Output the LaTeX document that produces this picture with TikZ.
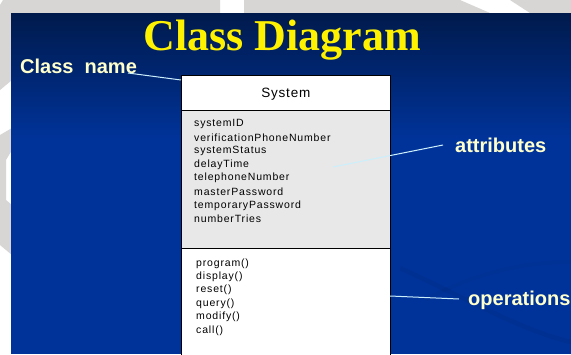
\documentclass[tikz,border=0pt]{standalone}
\usepackage{fontspec}
\setmainfont{Liberation Serif}
\setsansfont{Liberation Sans}
\begin{document}
\begin{tikzpicture}[x=1pt,y=-1pt,
  lbl/.style={font=\sffamily\bfseries\fontsize{20}{20}\selectfont, text=lblyellow, inner sep=0pt},
  member/.style={font=\sffamily\fontsize{10.5}{10.5}\selectfont\addfontfeatures{LetterSpace=8}, anchor=west, inner sep=0pt, text=black},
  pointer/.style={draw=white!80!cyan, line width=1pt}]
\definecolor{lblyellow}{HTML}{FFFFCC}
\definecolor{slideblue}{HTML}{00339A}
\definecolor{slidenavy}{HTML}{001A4C}
\definecolor{memfill}{HTML}{E8E8E8}
\definecolor{wmgray}{HTML}{D8D6D4}
\useasboundingbox (0,0) rectangle (571,354);
% watermark background
\fill[white] (0,0) rectangle (571,354);
\fill[wmgray] (3,0) -- (220,0) -- (220,13) -- (0,13) -- (0,5) -- cycle;
\fill[wmgray] (244,0) -- (460,0) -- (490,13) -- (244,13) -- cycle;
\fill[wmgray] (510,0) -- (571,0) -- (571,13) -- (530,13) -- cycle;
\fill[wmgray] (0,13) -- (12,13) -- (12,80) -- (0,90) -- cycle;
\fill[wmgray] (0,135) -- (12,128) -- (12,150) -- (6,160) -- (6,200) -- (12,205) -- (12,255) -- (0,245) -- cycle;
% slide
\shade[top color=slidenavy, bottom color=slideblue] (11,13) rectangle (571,140);
\fill[slideblue] (11,140) rectangle (571,354);
\draw[slidenavy!50!slideblue, line width=5pt, opacity=0.18] (400,268) .. controls (470,300) and (520,330) .. (571,342);
\draw[slidenavy!50!slideblue, line width=4pt, opacity=0.15] (425,300) .. controls (480,270) and (530,262) .. (571,262);
% title
\node[font=\rmfamily\bfseries\fontsize{44}{44}\selectfont, text=yellow, inner sep=0pt] (title) at (282,40) {Class Diagram};
% class box
\node[draw=black, fill=white, line width=0.6pt, minimum width=209pt, minimum height=35pt, inner sep=0pt, anchor=north west] (name) at (181,75) {};
\node[font=\sffamily\fontsize{13.5}{13.5}\selectfont\addfontfeatures{LetterSpace=6}, inner sep=0pt] (sys) at ([yshift=-1pt]name.center) {System};
\node[draw=black, fill=memfill, line width=0.6pt, minimum width=209pt, minimum height=138pt, inner sep=0pt, anchor=north west] (attrs) at (181,110) {};
\node[draw=black, fill=white, line width=0.6pt, minimum width=209pt, minimum height=110pt, inner sep=0pt, anchor=north west] (ops) at (181,248) {};
% attributes
\node[member] (a1) at (194,124) {systemID};
\node[member] (a2) at (194,138) {verificationPhoneNumber};
\node[member] (a3) at (194,151) {systemStatus};
\node[member] (a4) at (194,165) {delayTime};
\node[member] (a5) at (194,178) {telephoneNumber};
\node[member] (a6) at (194,192) {masterPassword};
\node[member] (a7) at (194,206) {temporaryPassword};
\node[member] (a8) at (194,219) {numberTries};
% operations
\node[member] (o1) at (196,264) {program()};
\node[member] (o2) at (196,277) {display()};
\node[member] (o3) at (196,290) {reset()};
\node[member] (o4) at (196,304) {query()};
\node[member] (o5) at (196,317) {modify()};
\node[member] (o6) at (196,331) {call()};
% labels
\node[lbl, anchor=west] (lname) at (20,66) {Class\ \ name};
\node[lbl, anchor=west] (lattr) at (455,145) {attributes};
\node[lbl, anchor=west] (lops) at (468,300) {operations};
\coordinate (pn) at (181,80);
\coordinate (pa) at (333,167);
\coordinate (po) at (390,296);
\coordinate (pn0) at (128,73);
\draw[pointer] (pn0) -- (pn);
\draw[pointer] (pa) -- ([xshift=-12pt]lattr.west);
\draw[pointer] (po) -- ([xshift=-9pt,yshift=1pt]lops.west);
\end{tikzpicture}
\end{document}
